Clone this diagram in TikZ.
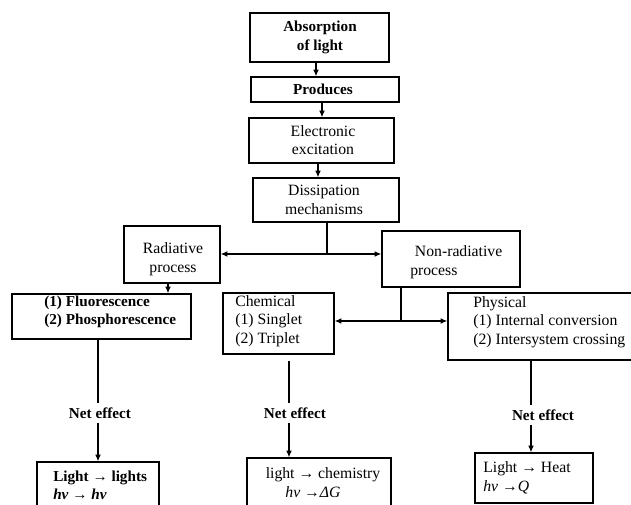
\documentclass[tikz,border=0pt]{standalone}
\usepackage{fontspec}
\setmainfont{Liberation Serif}
\usetikzlibrary{arrows.meta,calc,fit}
\begin{document}
\begin{tikzpicture}[x=0.75pt,y=-0.75pt,
  box/.style={draw,line width=0.9pt,inner sep=0pt},
  rmt/.style={inner sep=0pt,font=\fontsize{11.8}{13.9}\selectfont,align=center},
  bft/.style={inner sep=0pt,font=\fontsize{11.4}{13.9}\selectfont\bfseries,align=center},
  nett/.style={inner xsep=0pt,inner ysep=3.6pt,font=\fontsize{11.4}{13.9}\selectfont\bfseries},
  ln/.style={line width=0.9pt},
  arr/.style={line width=0.9pt,-{Latex[length=5pt,width=4.2pt]}},
  darr/.style={line width=0.9pt,{Latex[length=5pt,width=4.2pt]}-{Latex[length=5pt,width=4.2pt]}}]
\useasboundingbox (0,0) rectangle (631,505);

% boxes
\node[box,fit={(250,13) (389,62)}] (absorb) {};
\node[box,fit={(251,77) (399,102)}] (produces) {};
\node[box,fit={(249,118) (394,163)}] (elec) {};
\node[box,fit={(253,178) (399,222)}] (diss) {};
\node[box,fit={(124,226) (220,283)}] (rad) {};
\node[box,fit={(382,231) (520,287)}] (nonrad) {};
\node[box,fit={(12,294) (191,339)}] (fluor) {};
\node[box,fit={(223,293) (334,354)}] (chem) {};
\node[box,fit={(448,293) (645,360)}] (phys) {};
\node[box,fit={(37,462) (159,520)}] (b1) {};
\node[box,fit={(247,458) (391,520)}] (b2) {};
\node[box,fit={(475,453) (593,503)}] (b3) {};

% texts
\node[bft] (tabsorb) at (320,37.5) {Absorption\\of light};
\node[bft] (tproduces) at (323,89) {Produces};
\node[rmt] (telec) at (323,140) {Electronic\\excitation};
\node[rmt] (tdiss) at (324,200) {Dissipation\\mechanisms};
\node[rmt] (trad) at (173,259) {Radiative\\process};
\node[rmt,align=left,anchor=west] (tnonrad) at (410,262) {\hspace*{3.5pt}Non-radiative\\process};
\node[bft,align=left,anchor=west] (tfluor) at (44,312) {(1) Fluorescence\\(2) Phosphorescence};
\node[rmt,align=left,anchor=west] (tchem) at (235,321) {Chemical\\(1) Singlet\\(2) Triplet};
\node[rmt,align=left,anchor=west] (tphys) at (473,322) {Physical\\(1) Internal conversion\\(2) Intersystem crossing};
\node[bft,align=left,anchor=west] (tb1) at (53,485.5) {Light → lights\\\textit{hν} → \textit{hν}};
\node[rmt] (tb2) at (323,482.5) {light → chemistry\\\textit{hν} →\textit{ΔG}\hspace*{15pt}};
\node[rmt,align=left,anchor=west] (tb3) at (483,478) {Light → Heat\\\textit{hν} →\textit{Q}};

\node[nett] (net1) at (100,413) {Net effect};
\node[nett] (net2) at (295,413) {Net effect};
\node[nett] (net3) at (543,415) {Net effect};

% helper coordinates
\coordinate (a1) at (316,0);
\coordinate (a2) at (322,0);
\coordinate (a3) at (318,0);
\coordinate (j1) at (327,254);
\coordinate (r1) at (168,0);
\coordinate (j2) at (401,321);
\coordinate (c1) at (98,0);
\coordinate (c2) at (289,0);
\coordinate (c3) at (531,0);

% connectors
\draw[arr] (absorb.south -| a1) -- (produces.north -| a1);
\draw[arr] (produces.south -| a2) -- (elec.north -| a2);
\draw[arr] (elec.south -| a3) -- (diss.north -| a3);
\draw[ln] (diss.south -| j1) -- (j1);
\draw[darr] (rad.east |- j1) -- (nonrad.west |- j1);
\draw[arr] (rad.south -| r1) -- (fluor.north -| r1);
\draw[ln] (nonrad.south -| j2) -- (j2);
\draw[darr] (chem.east |- j2) -- (phys.west |- j2);

\draw[ln] (fluor.south -| c1) -- (net1.north -| c1);
\draw[arr] (net1.south -| c1) -- (b1.north -| c1);
\draw[ln] ($(chem.south -| c2)+(0,6)$) -- (net2.north -| c2);
\draw[arr] (net2.south -| c2) -- (b2.north -| c2);
\draw[ln] (phys.south -| c3) -- (net3.north -| c3);
\draw[arr] (net3.south -| c3) -- (b3.north -| c3);
\end{tikzpicture}
\end{document}
